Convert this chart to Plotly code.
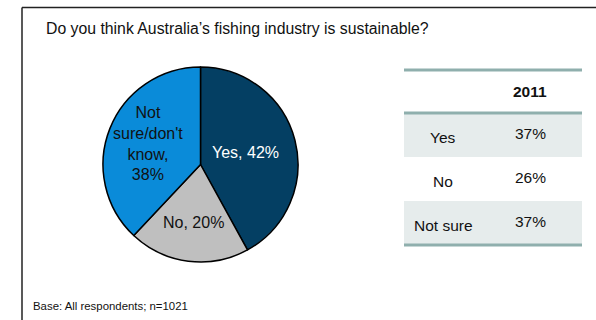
import math
import plotly.graph_objects as go

# Pie data
pie_labels = ["Yes", "No", "Not sure/don't know"]
pie_values = [42, 20, 38]
pie_text = ["Yes, 42%", "No, 20%", "Not<br>sure/don't<br>know,<br>38%"]
pie_colors = ["#043F63", "#BFBFBF", "#0A8BD9"]
pie_text_colors = ["white", "#111111", "#111111"]
label_radius = [0.48, 0.6, 0.58]  # label distance from centre, as share of radius

# Comparison table data
table_header = "2011"
table_rows = ["Yes", "No", "Not sure"]
table_values = ["37%", "26%", "37%"]

title_text = "Do you think Australia\u2019s fishing industry is sustainable?"
footer_text = "Base: All respondents; n=1021"

W, H = 596, 320
FONT = "Liberation Sans, Arial, sans-serif"


def px(x):
    return x / W


def py(y):
    return 1 - y / H


# Pie placement (pixels)
pie_left, pie_right, pie_top, pie_bottom = 103, 298, 67, 262
cx, cy = (pie_left + pie_right) / 2, (pie_top + pie_bottom) / 2
radius = (pie_right - pie_left) / 2

fig = go.Figure()

fig.add_trace(go.Pie(
    labels=pie_labels,
    values=pie_values,
    textinfo="none",
    marker=dict(colors=pie_colors, line=dict(color="black", width=1.5)),
    sort=False,
    direction="clockwise",
    rotation=0,
    hole=0,
    showlegend=False,
    domain=dict(x=[px(pie_left), px(pie_right)], y=[py(pie_bottom), py(pie_top)]),
))

shapes = []
annotations = []

# Slice labels at each slice's mid-angle (clockwise from 12 o'clock)
total = sum(pie_values)
cum = 0
for val, txt, col, fr in zip(pie_values, pie_text, pie_text_colors, label_radius):
    mid = (cum + val / 2) / total * 2 * math.pi
    cum += val
    lx = cx + radius * fr * math.sin(mid)
    ly = cy - radius * fr * math.cos(mid)
    annotations.append(dict(xref="paper", yref="paper", x=px(lx), y=py(ly), text=txt,
                            showarrow=False, xanchor="center", yanchor="middle",
                            align="center",
                            font=dict(family=FONT, size=16, color=col)))

# Outer frame (top and left edges)
shapes.append(dict(type="line", xref="paper", yref="paper",
                   x0=px(22), x1=1.01, y0=py(7.5), y1=py(7.5),
                   line=dict(color="#222222", width=1.5)))
shapes.append(dict(type="line", xref="paper", yref="paper",
                   x0=px(22), x1=px(22), y0=py(7.5), y1=-0.01,
                   line=dict(color="#222222", width=1.5)))

# Table geometry
tx0, tx1 = 404, 582
header_top, header_bottom = 70, 113
row_h = 44
row_tops = [header_bottom + i * row_h for i in range(len(table_rows))]
table_bottom = row_tops[-1] + row_h
shade = "#E6ECEC"
rule = "#8FAFAD"

for i, top in enumerate(row_tops):
    if i % 2 == 0:
        shapes.append(dict(type="rect", xref="paper", yref="paper",
                           x0=px(tx0), x1=px(tx1), y0=py(top + row_h), y1=py(top),
                           fillcolor=shade, line=dict(width=0), layer="below"))

for yline in (header_top, header_bottom, table_bottom):
    shapes.append(dict(type="line", xref="paper", yref="paper",
                       x0=px(tx0), x1=px(tx1), y0=py(yline), y1=py(yline),
                       line=dict(color=rule, width=3)))

col_label_x, col_value_x = 443, 530
TFS = 15.5
annotations.append(dict(xref="paper", yref="paper", x=px(col_value_x),
                        y=py((header_top + header_bottom) / 2), text="<b>" + table_header + "</b>",
                        showarrow=False, xanchor="center", yanchor="middle",
                        font=dict(family=FONT, size=TFS, color="#111111")))
for top, lab, val in zip(row_tops, table_rows, table_values):
    annotations.append(dict(xref="paper", yref="paper", x=px(col_label_x),
                            y=py(top + row_h / 2 + 2), text=lab, showarrow=False,
                            xanchor="center", yanchor="middle",
                            font=dict(family=FONT, size=TFS, color="#111111")))
    annotations.append(dict(xref="paper", yref="paper", x=px(col_value_x),
                            y=py(top + row_h / 2 - 2), text=val, showarrow=False,
                            xanchor="center", yanchor="middle",
                            font=dict(family=FONT, size=TFS, color="#111111")))

# Question and base note
annotations.append(dict(xref="paper", yref="paper", x=px(44), y=py(29), text=title_text,
                        showarrow=False, xanchor="left", yanchor="middle",
                        font=dict(family=FONT, size=15.8, color="#111111")))
annotations.append(dict(xref="paper", yref="paper", x=px(31), y=py(306), text=footer_text,
                        showarrow=False, xanchor="left", yanchor="middle",
                        font=dict(family=FONT, size=11.4, color="#111111")))

fig.update_layout(
    width=W, height=H,
    margin=dict(l=0, r=0, t=0, b=0),
    paper_bgcolor="white",
    plot_bgcolor="white",
    shapes=shapes,
    annotations=annotations,
)

fig.write_html("out.html")
